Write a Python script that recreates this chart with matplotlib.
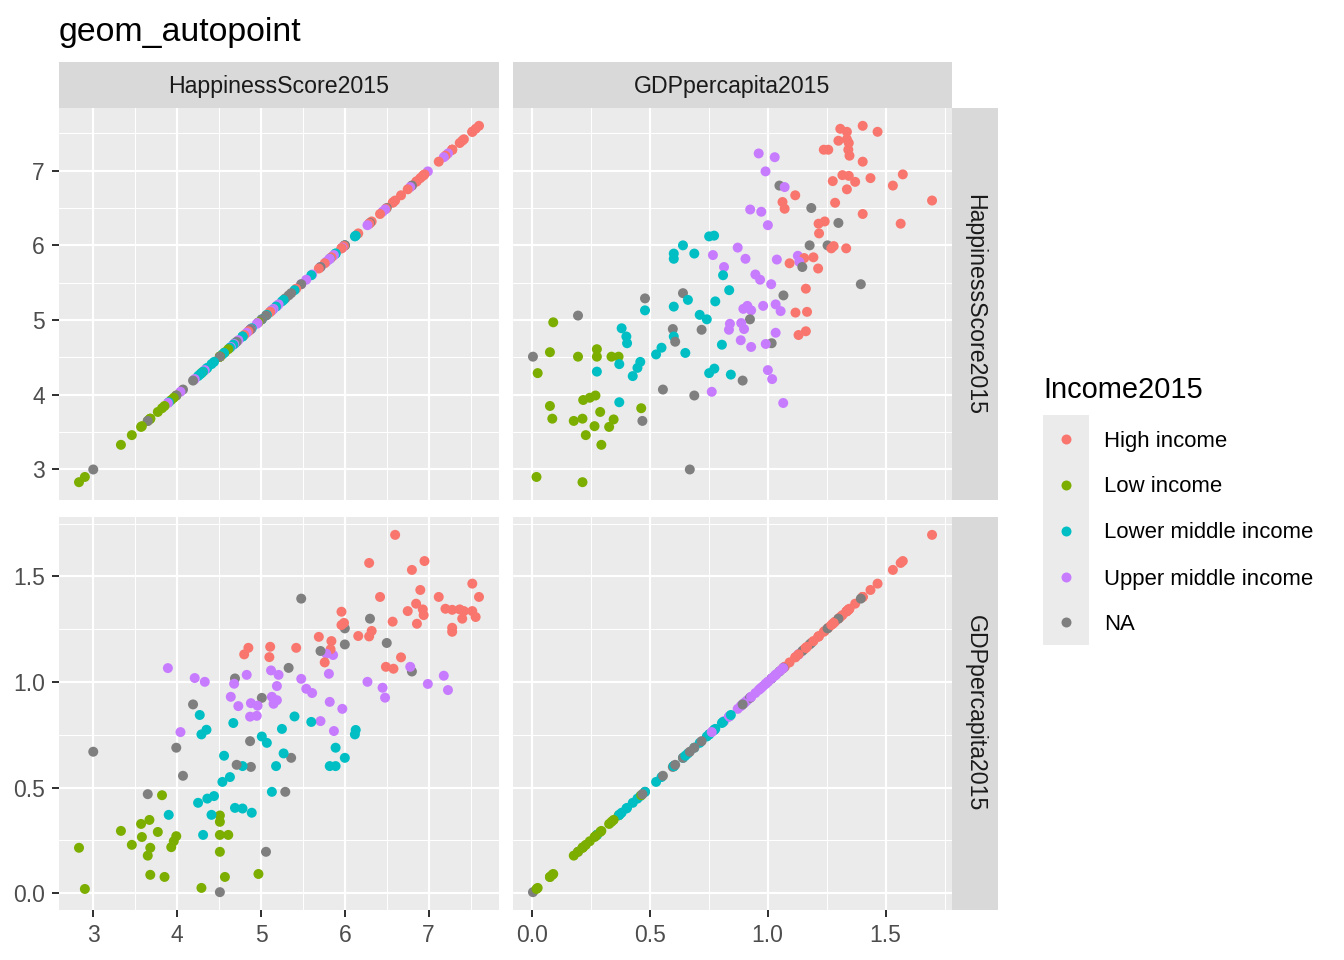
import matplotlib
matplotlib.use('Agg')
import matplotlib.pyplot as plt
from matplotlib.patches import Rectangle
from matplotlib.ticker import FixedLocator
import numpy as np

plt.rcParams['font.family'] = ['Liberation Sans', 'DejaVu Sans']

# ---------------- data (HappinessScore2015, GDPpercapita2015) by Income2015 ----------------
high_happy = [5.96, 5.96, 5.99, 5.69, 5.84, 4.85, 4.80, 5.11, 5.10, 5.42, 5.83, 5.76,
              6.60, 6.29, 6.95, 6.80, 7.52, 7.60, 6.90, 6.42, 7.12, 6.85, 6.75, 6.93,
              6.94, 7.20, 7.28, 7.37, 7.42, 7.52, 7.40, 7.56, 7.28, 7.28, 6.57, 6.86,
              6.32, 6.29, 6.16, 6.67, 6.49, 6.58]
high_gdp = [1.333, 1.270, 1.280, 1.214, 1.194, 1.162, 1.131, 1.167, 1.118, 1.162, 1.155, 1.093,
            1.697, 1.564, 1.573, 1.531, 1.466, 1.403, 1.436, 1.403, 1.403, 1.371, 1.336, 1.344,
            1.317, 1.347, 1.342, 1.344, 1.336, 1.336, 1.300, 1.308, 1.257, 1.238, 1.286, 1.276,
            1.242, 1.216, 1.218, 1.117, 1.072, 1.063]

low_happy = [3.82, 4.51, 4.51, 3.57, 3.67, 3.33, 3.77, 3.58, 3.46, 3.99, 3.96, 3.93,
             4.51, 4.61, 2.83, 3.68, 3.65, 4.51, 3.68, 3.85, 4.57, 4.97, 2.90, 4.29]
low_gdp = [0.464, 0.368, 0.338, 0.328, 0.347, 0.295, 0.290, 0.266, 0.229, 0.270, 0.246, 0.218,
           0.276, 0.276, 0.215, 0.215, 0.178, 0.196, 0.087, 0.077, 0.077, 0.091, 0.020, 0.025]

lowmid_happy = [4.27, 4.67, 4.29, 4.35, 5.01, 5.07, 5.25, 4.56, 4.78, 5.18, 4.54, 4.63,
                5.13, 4.25, 4.36, 4.44, 3.90, 4.41, 4.69, 4.78, 4.89, 4.31, 5.40, 5.60,
                5.89, 6.00, 5.27, 5.82, 5.89, 6.13, 6.12]
lowmid_gdp = [0.844, 0.806, 0.752, 0.774, 0.742, 0.712, 0.778, 0.651, 0.602, 0.602, 0.527, 0.550,
              0.480, 0.428, 0.448, 0.460, 0.371, 0.371, 0.404, 0.401, 0.381, 0.276, 0.837, 0.811,
              0.689, 0.641, 0.662, 0.602, 0.602, 0.773, 0.752]

upmid_happy = [4.87, 4.95, 4.04, 5.78, 5.86, 5.81, 3.89, 4.21, 4.33, 4.68, 4.83, 5.12,
               5.21, 5.48, 5.19, 5.54, 5.61, 4.64, 5.13, 5.19, 5.15, 4.88, 4.96, 4.73,
               5.82, 5.97, 5.71, 5.87, 6.78, 6.27, 6.45, 6.48, 6.99, 7.18, 7.23]
upmid_gdp = [0.836, 0.840, 0.763, 1.134, 1.128, 1.039, 1.066, 1.019, 1.001, 0.992, 1.034, 1.055,
             1.034, 1.015, 0.981, 0.968, 0.948, 0.930, 0.930, 0.914, 0.897, 0.900, 0.888, 0.886,
             0.906, 0.873, 0.815, 0.768, 1.072, 1.001, 0.973, 0.926, 0.991, 1.030, 0.962]

na_happy = [4.19, 3.00, 3.99, 4.87, 4.71, 4.88, 4.07, 3.65, 5.06, 4.51, 5.48, 6.00,
            6.00, 5.71, 4.69, 5.33, 5.01, 5.36, 6.30, 6.50, 6.80, 5.29]
na_gdp = [0.894, 0.670, 0.689, 0.720, 0.608, 0.598, 0.556, 0.469, 0.196, 0.005, 1.395, 1.254,
          1.178, 1.147, 1.017, 1.067, 0.925, 0.641, 1.300, 1.185, 1.050, 0.480]

income_levels = ['High income', 'Low income', 'Lower middle income', 'Upper middle income', 'NA']
income_colors = ['#F8766D', '#7CAE00', '#00BFC4', '#C77CFF', '#7F7F7F']
var_names = ['HappinessScore2015', 'GDPpercapita2015']
major_ticks = [[3, 4, 5, 6, 7], [0.0, 0.5, 1.0, 1.5]]
major_labels = [['3', '4', '5', '6', '7'], ['0.0', '0.5', '1.0', '1.5']]
minor_ticks = [[2.5, 3.5, 4.5, 5.5, 6.5, 7.5], [-0.25, 0.25, 0.75, 1.25, 1.75]]

groups_h = [high_happy, low_happy, lowmid_happy, upmid_happy, na_happy]
groups_g = [high_gdp, low_gdp, lowmid_gdp, upmid_gdp, na_gdp]

h = np.concatenate([np.asarray(a, float) for a in groups_h])
g = np.concatenate([np.asarray(a, float) for a in groups_g])
cols = np.concatenate([[income_colors[i]] * len(a) for i, a in enumerate(groups_h)])
order = np.argsort(-h, kind='stable')
vals = [h[order], g[order]]
ccol = cols[order]

lims = []
for v in vals:
    lo, hi = v.min(), v.max()
    pad = 0.05 * (hi - lo)
    lims.append((lo - pad, hi + pad))

# ---------------- layout ----------------
W, H = 1344, 960
fig = plt.figure(figsize=(W / 192, H / 192), dpi=192)
fig.patch.set_facecolor('white')


def fr(x0, y0, x1, y1):
    return [x0 / W, 1 - y1 / H, (x1 - x0) / W, (y1 - y0) / H]


colx = [(59, 499), (513, 952)]
rowy = [(108, 500), (517, 910)]

for r in range(2):
    for c in range(2):
        x0, x1 = colx[c]
        y0, y1 = rowy[r]
        ax = fig.add_axes(fr(x0, y0, x1, y1))
        ax.set_facecolor('#EBEBEB')
        for s in ax.spines.values():
            s.set_visible(False)
        ax.set_axisbelow(True)
        ax.scatter(vals[c], vals[r], c=ccol, s=14, linewidths=0, zorder=3)
        ax.set_xlim(*lims[c])
        ax.set_ylim(*lims[r])
        ax.set_xticks(major_ticks[c])
        ax.set_yticks(major_ticks[r])
        ax.xaxis.set_minor_locator(FixedLocator(minor_ticks[c]))
        ax.yaxis.set_minor_locator(FixedLocator(minor_ticks[r]))
        ax.grid(which='major', color='white', linewidth=0.8)
        ax.grid(which='minor', color='white', linewidth=0.4)
        ax.tick_params(which='minor', length=0)
        ax.tick_params(which='major', length=2.75, width=0.75, color='#333333',
                       labelsize=8.6, labelcolor='#4D4D4D')
        ax.tick_params(axis='x', pad=2.4)
        ax.tick_params(axis='y', pad=2.6)
        if r == 1:
            ax.set_xticklabels(major_labels[c])
        else:
            ax.tick_params(axis='x', length=0, labelbottom=False)
        if c == 0:
            ax.set_yticklabels(major_labels[r])
        else:
            ax.tick_params(axis='y', length=0, labelleft=False)

# strips
for c in range(2):
    x0, x1 = colx[c]
    fig.add_artist(Rectangle((x0 / W, 1 - 108 / H), (x1 - x0) / W, 46 / H,
                             transform=fig.transFigure, facecolor='#D9D9D9', edgecolor='none'))
    fig.text((x0 + x1) / 2 / W, 1 - 86 / H, var_names[c], ha='center', va='center',
             fontsize=8.7, color='#1A1A1A')
for r in range(2):
    y0, y1 = rowy[r]
    fig.add_artist(Rectangle((952 / W, 1 - y1 / H), 46 / W, (y1 - y0) / H,
                             transform=fig.transFigure, facecolor='#D9D9D9', edgecolor='none'))
    fig.text(975 / W, 1 - (y0 + y1) / 2 / H, var_names[r], ha='center', va='center',
             rotation=270, fontsize=8.7, color='#1A1A1A')

# title
fig.text(59 / W, 1 - 41 / H, 'geom_autopoint', ha='left', va='baseline', fontsize=12.7, color='black')

# legend
fig.text(1043 / W, 1 - 398 / H, 'Income2015', ha='left', va='baseline', fontsize=10.9, color='black')
lax = fig.add_axes(fr(1043, 415, 1089, 645))
lax.set_facecolor('#EBEBEB')
for s in lax.spines.values():
    s.set_visible(False)
lax.set_xticks([])
lax.set_yticks([])
lax.set_xlim(1043, 1089)
lax.set_ylim(645, 415)
key_y = [438.5, 484.5, 530.5, 576.5, 622]
for yk, lab, col in zip(key_y, income_levels, income_colors):
    lax.scatter([1066], [yk], s=14, c=col, linewidths=0)
    fig.text(1104 / W, 1 - yk / H, lab, ha='left', va='center_baseline', fontsize=8.3, color='black')

fig.savefig('out.png', dpi=192, facecolor='white')
